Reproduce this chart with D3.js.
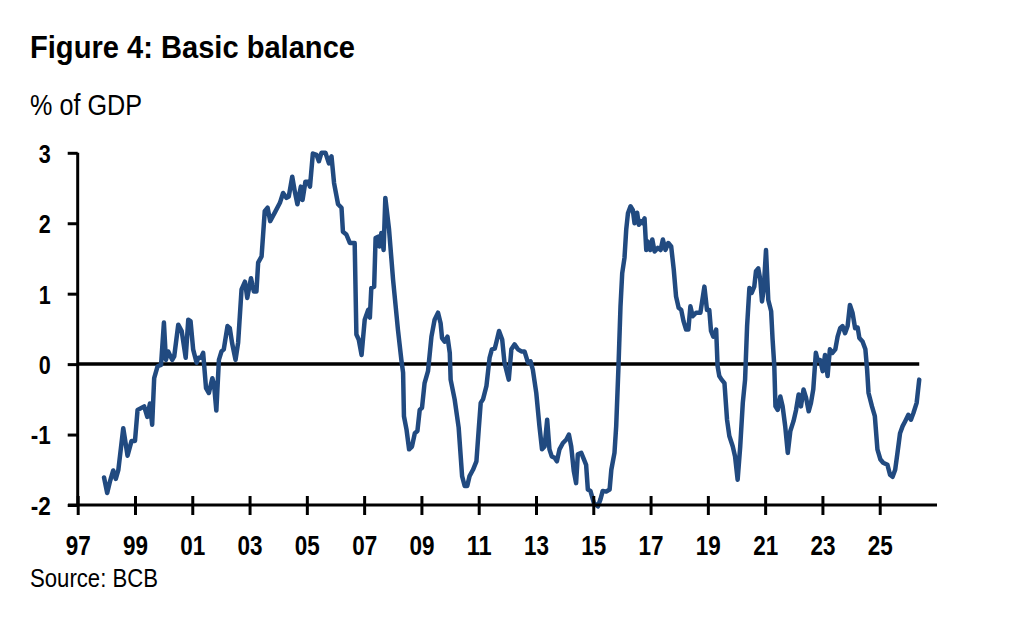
<!DOCTYPE html>
<html>
<head>
<meta charset="utf-8">
<script src="https://cdn.jsdelivr.net/npm/d3@7"></script>
<style>
  html, body { margin: 0; padding: 0; background: #fff; }
  svg { display: block; }
  text { font-family: "Liberation Sans Narrow", "Arial Narrow", "Liberation Sans", Arial, sans-serif; fill: #000; }
</style>
</head>
<body>
<svg id="chart" width="1020" height="629"></svg>
<script>
// ---- Data ----
const title = "Figure 4: Basic balance";
const unitLabel = "% of GDP";
const sourceLabel = "Source: BCB";

// decimal year of each observation
const dates = [
  1997.92,1998.03,1998.13,1998.24,1998.33,1998.42,1998.59,1998.74,1998.88,1999.00,
  1999.09,1999.32,1999.43,1999.52,1999.60,1999.67,1999.79,1999.91,2000.01,2000.08,
  2000.16,2000.30,2000.37,2000.51,2000.63,2000.77,2000.86,2000.94,2001.03,2001.15,
  2001.21,2001.30,2001.38,2001.48,2001.58,2001.70,2001.76,2001.84,2001.93,2002.02,
  2002.10,2002.23,2002.31,2002.39,2002.51,2002.60,2002.72,2002.84,2002.92,2003.05,
  2003.15,2003.24,2003.30,2003.42,2003.53,2003.63,2003.72,2003.88,2004.06,2004.17,
  2004.29,2004.37,2004.49,2004.58,2004.67,2004.79,2004.85,2004.95,2005.04,2005.11,
  2005.21,2005.34,2005.42,2005.51,2005.65,2005.77,2005.86,2005.95,2006.09,2006.21,
  2006.26,2006.38,2006.50,2006.67,2006.73,2006.81,2006.91,2007.02,2007.14,2007.20,
  2007.25,2007.35,2007.40,2007.49,2007.54,2007.60,2007.68,2007.74,2007.87,2008.01,
  2008.18,2008.30,2008.36,2008.39,2008.48,2008.57,2008.67,2008.77,2008.86,2008.94,
  2009.02,2009.11,2009.23,2009.35,2009.46,2009.58,2009.67,2009.72,2009.81,2009.91,
  2009.99,2010.02,2010.16,2010.30,2010.42,2010.51,2010.60,2010.68,2010.80,2010.92,
  2011.00,2011.07,2011.15,2011.27,2011.38,2011.46,2011.56,2011.61,2011.71,2011.82,
  2011.90,2012.05,2012.14,2012.25,2012.37,2012.49,2012.60,2012.72,2012.81,2012.89,
  2013.01,2013.12,2013.21,2013.30,2013.39,2013.47,2013.55,2013.65,2013.73,2013.82,
  2013.94,2014.06,2014.15,2014.23,2014.32,2014.40,2014.46,2014.58,2014.67,2014.75,
  2014.81,2014.90,2015.02,2015.16,2015.25,2015.33,2015.45,2015.57,2015.63,2015.74,
  2015.80,2015.88,2015.95,2016.01,2016.09,2016.15,2016.21,2016.30,2016.38,2016.44,
  2016.53,2016.59,2016.67,2016.73,2016.79,2016.85,2016.90,2016.99,2017.06,2017.14,
  2017.25,2017.35,2017.43,2017.52,2017.62,2017.72,2017.81,2017.89,2017.98,2018.07,
  2018.15,2018.24,2018.32,2018.39,2018.47,2018.59,2018.74,2018.88,2018.97,2019.05,
  2019.11,2019.19,2019.29,2019.34,2019.40,2019.48,2019.58,2019.67,2019.75,2019.87,
  2019.95,2020.04,2020.13,2020.22,2020.30,2020.37,2020.45,2020.53,2020.62,2020.68,
  2020.76,2020.83,2020.89,2020.95,2021.03,2021.11,2021.21,2021.26,2021.32,2021.36,
  2021.44,2021.53,2021.61,2021.70,2021.79,2021.88,2021.99,2022.08,2022.17,2022.25,
  2022.34,2022.43,2022.52,2022.60,2022.68,2022.77,2022.83,2022.92,2023.01,2023.09,
  2023.18,2023.26,2023.35,2023.45,2023.53,2023.62,2023.70,2023.79,2023.88,2023.96,
  2024.05,2024.14,2024.23,2024.29,2024.40,2024.50,2024.56,2024.61,2024.73,2024.83,
  2024.92,2025.02,2025.12,2025.27,2025.36,2025.45,2025.54,2025.62,2025.71,2025.80,
  2025.89,2026.00,2026.09,2026.18,2026.29,2026.38
];

// basic balance, % of GDP
const balance = [
  -1.61,-1.83,-1.66,-1.51,-1.63,-1.50,-0.91,-1.30,-1.09,-1.09,
  -0.65,-0.60,-0.75,-0.56,-0.86,-0.20,-0.03,-0.01,0.59,0.06,
  0.18,0.06,0.11,0.56,0.47,0.09,0.63,0.61,0.21,0.02,
  0.09,0.09,0.16,-0.34,-0.41,-0.20,-0.29,-0.66,0.06,0.18,
  0.21,0.54,0.51,0.30,0.06,0.30,1.06,1.17,0.94,1.22,
  1.03,1.03,1.44,1.53,2.17,2.22,2.03,2.15,2.29,2.43,
  2.36,2.38,2.66,2.45,2.27,2.52,2.33,2.59,2.59,2.52,
  2.99,2.97,2.88,3.00,3.00,2.85,2.95,2.57,2.27,2.22,
  1.88,1.84,1.72,1.72,0.42,0.35,0.13,0.63,0.77,0.66,
  1.08,1.10,1.79,1.81,1.67,1.86,1.62,2.36,1.91,1.20,
  0.49,0.06,-0.12,-0.74,-0.93,-1.21,-1.17,-0.98,-0.95,-0.65,
  -0.62,-0.27,-0.10,0.39,0.63,0.73,0.58,0.37,0.32,0.39,
  0.16,-0.22,-0.50,-0.90,-1.59,-1.73,-1.73,-1.59,-1.50,-1.38,
  -0.93,-0.55,-0.50,-0.31,0.09,0.21,0.22,0.30,0.47,0.35,
  0.02,-0.22,0.21,0.28,0.21,0.18,0.18,0.02,0.04,-0.08,
  -0.41,-0.88,-1.21,-1.17,-0.79,-1.21,-1.31,-1.33,-1.38,-1.21,
  -1.12,-1.07,-1.00,-1.17,-1.52,-1.69,-1.28,-1.26,-1.35,-1.43,
  -1.78,-1.80,-1.97,-2.02,-1.92,-1.80,-1.81,-1.78,-1.50,-1.26,
  -0.88,-0.03,0.82,1.29,1.51,1.91,2.14,2.24,2.19,2.00,
  2.15,1.98,2.03,2.00,2.07,1.62,1.74,1.62,1.77,1.60,
  1.65,1.62,1.77,1.62,1.72,1.67,1.34,0.96,0.80,0.77,
  0.61,0.49,0.49,0.82,0.68,0.73,0.73,1.10,0.77,0.77,
  0.47,0.39,0.49,-0.03,-0.17,-0.22,-0.27,-0.79,-1.02,-1.17,
  -1.31,-1.64,-1.17,-0.55,-0.22,0.54,1.08,1.01,1.10,1.32,
  1.36,1.20,0.89,1.06,1.62,0.91,0.75,0.35,-0.03,-0.60,
  -0.65,-0.46,-0.60,-0.88,-1.26,-0.95,-0.81,-0.65,-0.43,-0.60,
  -0.36,-0.48,-0.67,-0.55,-0.36,0.16,0.06,0.06,-0.10,0.13,
  -0.17,0.21,0.16,0.21,0.39,0.51,0.54,0.44,0.54,0.84,
  0.73,0.51,0.52,0.37,0.32,0.21,-0.08,-0.41,-0.60,-0.74,
  -1.21,-1.35,-1.40,-1.43,-1.57,-1.60,-1.50,-1.26,-0.98,-0.88,
  -0.81,-0.72,-0.79,-0.69,-0.55,-0.22
];

const xTickYears = [1997,1999,2001,2003,2005,2007,2009,2011,2013,2015,2017,2019,2021,2023,2025];
const xTickLabels = ["97","99","01","03","05","07","09","11","13","15","17","19","21","23","25"];
const yTickValues = [-2,-1,0,1,2,3];
const yTickLabels = ["-2","-1","0","1","2","3"];

// ---- Drawing ----
const svg = d3.select("#chart");
const x = d3.scaleLinear().domain([1997, 2027]).range([77.7, 937]);
const y = d3.scaleLinear().domain([-2, 3]).range([505, 152.8]);

const data = dates.map((d, i) => ({ t: d, v: balance[i] }));

// Title, unit, source
svg.append("text").attr("x", 30).attr("y", 58)
  .style("font-weight", "bold").style("font-size", "32px")
  .attr("textLength", 325).attr("lengthAdjust", "spacingAndGlyphs")
  .text(title);
svg.append("text").attr("x", 30).attr("y", 115)
  .style("font-size", "29px")
  .attr("textLength", 112).attr("lengthAdjust", "spacingAndGlyphs")
  .text(unitLabel);
svg.append("text").attr("x", 30).attr("y", 587)
  .style("font-size", "25px")
  .attr("textLength", 128).attr("lengthAdjust", "spacingAndGlyphs")
  .text(sourceLabel);

// Zero line
svg.append("line")
  .attr("x1", x(1997)).attr("x2", x(2026.38))
  .attr("y1", y(0)).attr("y2", y(0))
  .attr("stroke", "#000").attr("stroke-width", 3.5);

// Series line
const line = d3.line().x(d => x(d.t)).y(d => y(d.v));
svg.append("path").datum(data)
  .attr("fill", "none")
  .attr("stroke", "#214a80")
  .attr("stroke-width", 4.5)
  .attr("stroke-linejoin", "round")
  .attr("stroke-linecap", "round")
  .attr("d", line);

// Y axis
const yAxis = d3.axisLeft(y).tickValues(yTickValues)
  .tickFormat((d, i) => yTickLabels[i]).tickSize(10).tickPadding(0);
const gy = svg.append("g").attr("transform", `translate(${x(1997)},0)`).call(yAxis);
gy.select(".domain").attr("stroke", "#000").attr("stroke-width", 3).attr("d", `M0,${y(3)}V${y(-2)}`);
gy.selectAll(".tick line").attr("stroke", "#000").attr("stroke-width", 3);
gy.selectAll(".tick text")
  .attr("x", -27).attr("dy", "0.36em")
  .attr("textLength", (d, i) => yTickLabels[i].length > 1 ? 20 : 12)
  .attr("lengthAdjust", "spacingAndGlyphs")
  .style("font-size", "26px").style("font-weight", "bold");

// X axis
const xAxis = d3.axisBottom(x).tickValues(xTickYears)
  .tickFormat((d, i) => xTickLabels[i]).tickSize(10).tickPadding(0);
const gx = svg.append("g").attr("transform", `translate(0,${y(-2)})`).call(xAxis);
gx.select(".domain").attr("stroke", "#000").attr("stroke-width", 3).attr("d", `M68,0H937`);
gx.selectAll(".tick line").attr("stroke", "#000").attr("stroke-width", 3).attr("y1", -9).attr("y2", 10);
gx.selectAll(".tick text")
  .attr("y", 50).attr("dy", 0)
  .attr("textLength", 25).attr("lengthAdjust", "spacingAndGlyphs")
  .style("font-size", "28px").style("font-weight", "bold");
</script>
</body>
</html>
